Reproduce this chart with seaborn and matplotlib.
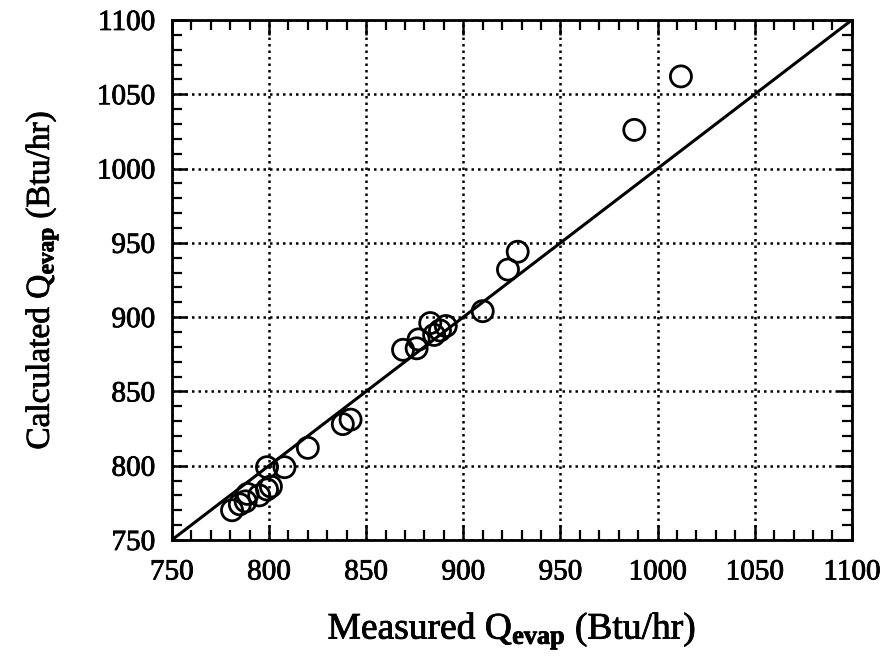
import matplotlib
matplotlib.use("Agg")
import matplotlib.pyplot as plt
import matplotlib.patheffects as pe
from matplotlib.ticker import MultipleLocator
import seaborn as sns
import pandas as pd

# Evaporator capacity: measured vs calculated (Btu/hr)
measured = [781, 785, 788, 789, 795, 799, 801, 799, 808, 820, 838, 842,
            869, 876, 877, 883, 885, 888, 891, 910, 923, 928, 988, 1012]
calculated = [770, 774, 776, 781, 780, 784, 786, 799, 799, 812, 828, 831,
              878, 879, 885, 896, 888, 891, 894, 904, 932, 944, 1026, 1062]
parity = [750, 1100]
ticks = [750, 800, 850, 900, 950, 1000, 1050, 1100]

sns.set_theme(style="white")
plt.rcParams["font.family"] = ["Liberation Serif", "DejaVu Serif"]
plt.rcParams["mathtext.fontset"] = "custom"
plt.rcParams["mathtext.rm"] = "Liberation Serif"
plt.rcParams["mathtext.it"] = "Liberation Serif:italic"
plt.rcParams["mathtext.bf"] = "Liberation Serif:bold"

ink = [pe.withStroke(linewidth=0.6, foreground="black")]

df = pd.DataFrame({"measured": measured, "calculated": calculated})
line_df = pd.DataFrame({"x": parity, "y": parity})

fig = plt.figure(figsize=(8.81, 6.65), dpi=100)
ax = fig.add_axes([0.195, 0.188, 0.772, 0.782])

sns.lineplot(data=line_df, x="x", y="y", ax=ax, color="black", linewidth=2.2)
sns.scatterplot(data=df, x="measured", y="calculated", ax=ax, marker="o",
                s=230, facecolor="none", edgecolor="black", linewidth=2.0,
                zorder=3)

ax.set_xlim(750, 1100)
ax.set_ylim(750, 1100)
ax.set_xticks(ticks)
ax.set_yticks(ticks)
ax.xaxis.set_minor_locator(MultipleLocator(10))
ax.yaxis.set_minor_locator(MultipleLocator(10))
ax.tick_params(which="both", direction="in", top=True, right=True,
               bottom=True, left=True, color="black")
ax.tick_params(which="major", length=11, width=1.8, labelsize=21)
ax.tick_params(axis="x", which="major", pad=14)
ax.tick_params(axis="y", which="major", pad=12)
ax.tick_params(which="minor", length=7, width=1.6)
for lab in ax.get_xticklabels() + ax.get_yticklabels():
    lab.set_color("black")
    lab.set_path_effects(ink)

ax.grid(True, which="major", color="black", linestyle=(0, (1, 1.6)),
        linewidth=1.8)
for sp in ax.spines.values():
    sp.set_color("black")
    sp.set_linewidth(2.0)

xl = ax.set_xlabel(r"Measured Q$_{\mathbf{evap}}$ (Btu/hr)", fontsize=27,
                   color="black", labelpad=18)
yl = ax.set_ylabel(r"Calculated Q$_{\mathbf{evap}}$ (Btu/hr)", fontsize=24,
                   color="black", labelpad=26)
xl.set_path_effects(ink)
yl.set_path_effects(ink)

fig.savefig("out.png", dpi=100, facecolor="white")
